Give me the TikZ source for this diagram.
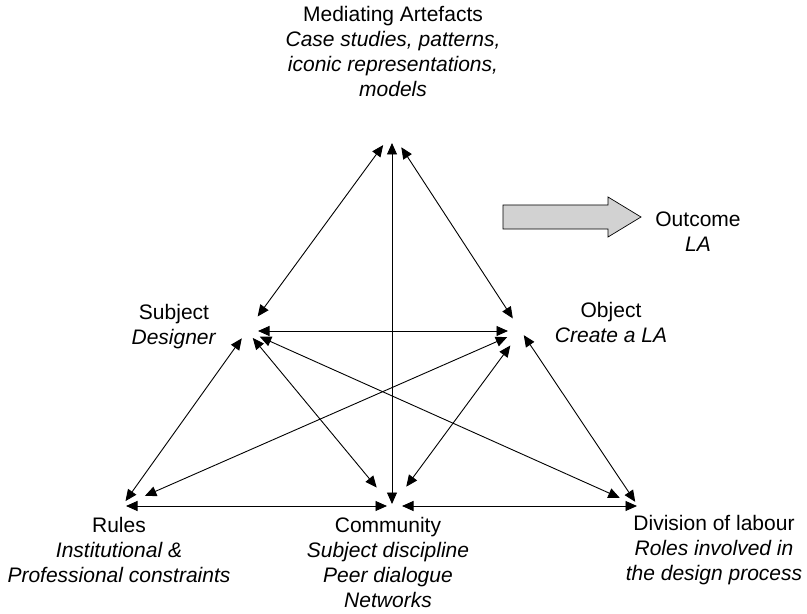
\documentclass[tikz,border=0pt]{standalone}
\usepackage{fontspec}
\setmainfont{Liberation Sans}
\usetikzlibrary{arrows.meta}

\begin{document}
\begin{tikzpicture}[x=1bp, y=-1bp]
	\tikzset{etiquette/.style={align=center, inner sep=0pt, font=\fontsize{21bp}{25bp}\selectfont}, lien/.style={{Triangle[length=11.5bp,width=10bp]}-{Triangle[length=11.5bp,width=10bp]}, line width=0.9bp}};

	\useasboundingbox (0,0) rectangle (807,614);

	\coordinate (m) at (392, 133);
	\coordinate (s) at (247, 331);
	\coordinate (o) at (521, 331);
	\coordinate (r) at (122, 506);
	\coordinate (c) at (392, 506);
	\coordinate (d) at (638, 506);

	\node[etiquette] (mediating) at (393,  52) {Mediating Artefacts\\ \textit{Case studies, patterns,}\\ \textit{iconic representations,}\\ \textit{models}};
	\node[etiquette] (subject)   at (174, 326.5) {Subject\\ \textit{Designer}};
	\node[etiquette] (object)    at (611, 322) {Object\\ \textit{Create a LA}};
	\node[etiquette] (outcome)   at (698, 231.5) {Outcome\\ \textit{LA}};
	\node[etiquette] (rules)     at (119, 550) {Rules\\ \textit{Institutional \&}\\ \textit{Professional constraints}};
	\node[etiquette] (community) at (388, 562.5) {Community\\ \textit{Subject discipline}\\ \textit{Peer dialogue}\\ \textit{Networks}};
	\node[etiquette] (division)  at (714, 550) {Division of labour\\ \textit{Roles involved in}\\ \textit{the design process}};

	\draw[fill=gray!35, line width=0.7bp] (503,205) -- (608,205) -- (608,197) -- (641,217) -- (608,237) -- (608,229) -- (503,229) -- cycle;

	\draw[lien, shorten <=15bp, shorten >=18bp] (m) -- (s);
	\draw[lien, shorten <=10bp, shorten >=2bp]  (m) -- (c);
	\draw[lien, shorten <=17bp, shorten >=15bp] (m) -- (o);
	\draw[lien, shorten <=11bp, shorten >=13bp] (s) -- (o);
	\draw[lien, shorten <=9bp,  shorten >=6bp]  (s) -- (r);
	\draw[lien, shorten <=9bp,  shorten >=24bp] (s) -- (c);
	\draw[lien, shorten <=14bp, shorten >=20bp] (s) -- (d);
	\draw[lien, shorten <=15bp, shorten >=25bp] (o) -- (r);
	\draw[lien, shorten <=18bp, shorten >=24bp] (o) -- (c);
	\draw[lien, shorten <=5bp,  shorten >=5bp]  (o) -- (d);
	\draw[lien, shorten <=4bp,  shorten >=5bp]  (r) -- (c);
	\draw[lien, shorten <=10bp, shorten >=1bp]  (c) -- (d);

\end{tikzpicture}
\end{document}
